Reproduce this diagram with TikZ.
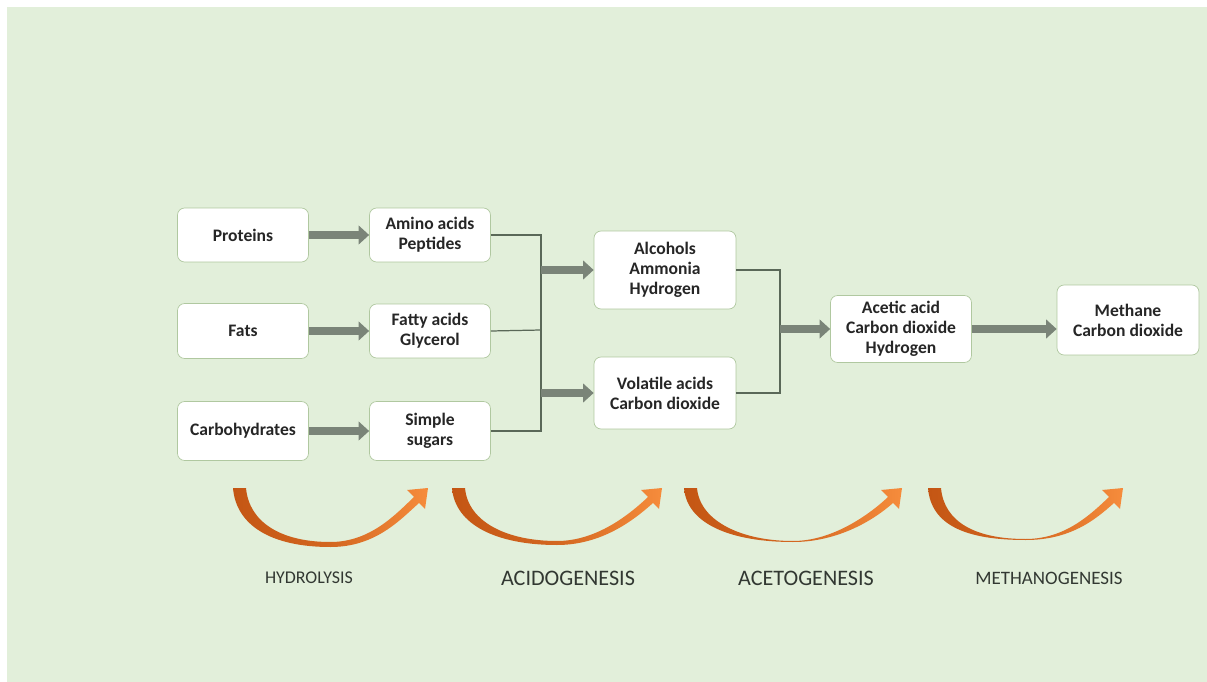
\documentclass[tikz,border=0pt]{standalone}
\usepackage{fontspec}
\setmainfont{Carlito}
\usetikzlibrary{arrows.meta, calc}
\definecolor{bggreen}{RGB}{226, 239, 218}
\definecolor{boxline}{RGB}{176, 200, 160}
\definecolor{flowgray}{RGB}{122, 132, 120}
\definecolor{linkgray}{RGB}{90, 104, 88}
\definecolor{orangeD}{RGB}{196, 86, 20}
\definecolor{orangeL}{RGB}{246, 140, 60}
\definecolor{labelgray}{RGB}{50, 56, 50}

% one curved stage arrow: left x, tip x, bottom y, thickness at bottom
\newcommand{\stagearrow}[4]{%
  \shade[left color=orangeD, right color=orangeL, middle color=orangeD!70!orangeL]
    (#1,488) .. controls ({#1+3},525) and ({(#1+#2)/2-60},#3) .. ({(#1+#2)/2},#3)
    .. controls ({(#1+#2)/2+45},#3) and ({#2-28},520) .. ({#2-9},503)
    -- ({#2-3},509) -- (#2,488) -- ({#2-21},490) -- ({#2-14},497)
    .. controls ({#2-32},514) and ({(#1+#2)/2+40},{#3-#4}) .. ({(#1+#2)/2},{#3-#4})
    .. controls ({(#1+#2)/2-50},{#3-#4}) and ({#1+16},522) .. ({#1+13},488) -- cycle;
}

\begin{document}
\begin{tikzpicture}[x=0.02cm, y=-0.02cm,
  box/.style={draw=boxline, fill=white, rounded corners=4pt, align=center, inner sep=2pt,
    font=\bfseries\fontsize{10}{11.3}\selectfont, text=black!85},
  flow/.style={line width=4.3pt, flowgray, -{Triangle[length=6pt, width=10.5pt]}},
  link/.style={linkgray, line width=0.7pt},
  stage/.style={text=labelgray}
]
  \useasboundingbox (0,0) rectangle (1207,682);
  \fill[bggreen] (7,7) rectangle (1207,682);

  % substrates
  \node[box, minimum width=2.62cm, minimum height=1.08cm] (proteins) at (243,235) {Proteins};
  \node[box, minimum width=2.62cm, minimum height=1.1cm] (fats) at (243,331) {Fats};
  \node[box, minimum width=2.62cm, minimum height=1.18cm] (carbs) at (243,431) {Carbohydrates};

  % hydrolysis products
  \node[box, minimum width=2.42cm, minimum height=1.08cm] (amino) at (430,235) {Amino acids\\Peptides};
  \node[box, minimum width=2.42cm, minimum height=1.08cm] (fatty) at (430,331) {Fatty acids\\Glycerol};
  \node[box, minimum width=2.42cm, minimum height=1.18cm] (sugars) at (430,431) {Simple\\sugars};

  % acidogenesis products
  \node[box, minimum width=2.84cm, minimum height=1.56cm] (alcohols) at (665,270) {Alcohols\\Ammonia\\Hydrogen};
  \node[box, minimum width=2.84cm, minimum height=1.44cm] (volatile) at (665,393) {Volatile acids\\Carbon dioxide};

  % acetogenesis and methanogenesis products
  \node[box, minimum width=2.82cm, minimum height=1.34cm] (acetic) at (901,329) {Acetic acid\\Carbon dioxide\\Hydrogen};
  \node[box, minimum width=2.84cm, minimum height=1.4cm] (methane) at (1128,320) {Methane\\Carbon dioxide};

  \draw[flow] (proteins) -- (amino);
  \draw[flow] (fats) -- (fatty);
  \draw[flow] (carbs) -- (sugars);

  % collecting lines
  \coordinate (busA) at (541,330);
  \coordinate (busB) at (780,330);
  \draw[link] (amino.east) -| (busA) |- (sugars.east);
  \draw[link] (fatty.east) -- (busA);
  \draw[flow] (busA |- alcohols.west) -- (alcohols.west);
  \draw[flow] (busA |- volatile.west) -- (volatile.west);
  \draw[link] (alcohols.east) -| (busB) |- (volatile.east);
  \draw[flow] (busB |- acetic.west) -- (acetic.west);
  \draw[flow] (acetic.east) -- (acetic.east -| methane.west);

  % stages
  \stagearrow{233}{428}{547}{5}
  \stagearrow{452}{662}{545}{4}
  \stagearrow{684}{902}{542}{1}
  \stagearrow{928}{1123}{540}{1}

  \node[stage, font=\fontsize{10.2}{12}\selectfont] (hydro) at (309,578) {HYDROLYSIS};
  \node[stage, font=\fontsize{12.6}{14}\selectfont] (acido) at (568,578) {ACIDOGENESIS};
  \node[stage, font=\fontsize{12.6}{14}\selectfont] (aceto) at (806,578) {ACETOGENESIS};
  \node[stage, font=\fontsize{10.8}{12}\selectfont] (methano) at (1049,578) {METHANOGENESIS};
\end{tikzpicture}
\end{document}
